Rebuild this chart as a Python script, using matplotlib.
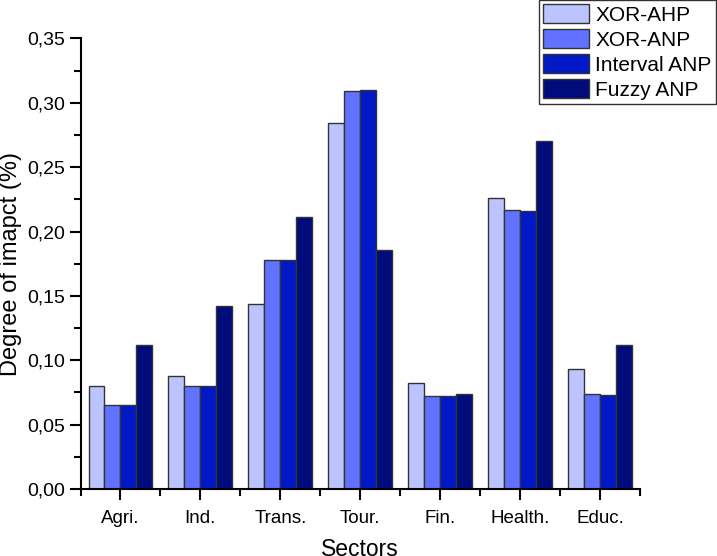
import numpy as np
import matplotlib
matplotlib.use("Agg")
import matplotlib.pyplot as plt
from matplotlib.ticker import FuncFormatter, MultipleLocator, FixedLocator

plt.rcParams['font.family'] = ['Liberation Sans', 'DejaVu Sans']

sectors = ["Agri.", "Ind.", "Trans.", "Tour.", "Fin.", "Health.", "Educ."]
methods = ["XOR-AHP", "XOR-ANP", "Interval ANP", "Fuzzy ANP"]
xor_ahp = [0.080, 0.088, 0.144, 0.284, 0.082, 0.226, 0.093]
xor_anp = [0.065, 0.080, 0.178, 0.309, 0.072, 0.217, 0.074]
interval_anp = [0.065, 0.080, 0.178, 0.310, 0.0725, 0.216, 0.073]
fuzzy_anp = [0.112, 0.142, 0.211, 0.186, 0.074, 0.270, 0.112]
colors = ["#BCC4FF", "#6072FF", "#0018C6", "#000C7C"]

fig = plt.figure(figsize=(7.17, 5.56), dpi=100)
ax = fig.add_axes([0.1123, 0.1205, 0.7803, 0.8103])

x = np.arange(1, len(sectors) + 1)
w = 0.2
series = [xor_ahp, xor_anp, interval_anp, fuzzy_anp]
for i, (vals, name) in enumerate(zip(series, methods)):
    ax.bar(x + (i - 1.5) * w, vals, w, color=colors[i], edgecolor="#333333",
           linewidth=1.0, label=name)

ax.set_xlim(0.5, 7.5)
ax.set_ylim(0, 0.35)
ax.set_xticks(x)
ax.set_xticklabels(sectors)
ax.xaxis.set_minor_locator(FixedLocator(np.arange(0.5, 7.6, 1.0)))
ax.yaxis.set_major_locator(MultipleLocator(0.05))
ax.yaxis.set_minor_locator(MultipleLocator(0.025))
ax.yaxis.set_major_formatter(FuncFormatter(lambda v, p: f"{v:.2f}".replace(".", ",")))

for s in ["top", "right"]:
    ax.spines[s].set_visible(False)
for s in ["left", "bottom"]:
    ax.spines[s].set_linewidth(1.5)
ax.tick_params(which="major", direction="out", length=8, width=1.5)
ax.tick_params(which="minor", direction="out", length=5, width=1.5)
ax.tick_params(axis="y", labelsize=14, pad=3)
ax.tick_params(axis="x", labelsize=13.5, pad=7)

ax.set_xlabel("Sectors", fontsize=16.5, labelpad=8)
ax.set_ylabel("Degree of imapct (%)", fontsize=17, labelpad=4)

leg = fig.legend(loc="upper left", bbox_to_anchor=(0.752, 1.0), fontsize=15,
                 frameon=True, fancybox=False, edgecolor="black",
                 handlelength=2.2, handleheight=1.05, handletextpad=0.3,
                 labelspacing=0.2, borderpad=0.2, borderaxespad=0.0)
leg.get_frame().set_linewidth(1.0)

fig.savefig("out.png", dpi=100)
